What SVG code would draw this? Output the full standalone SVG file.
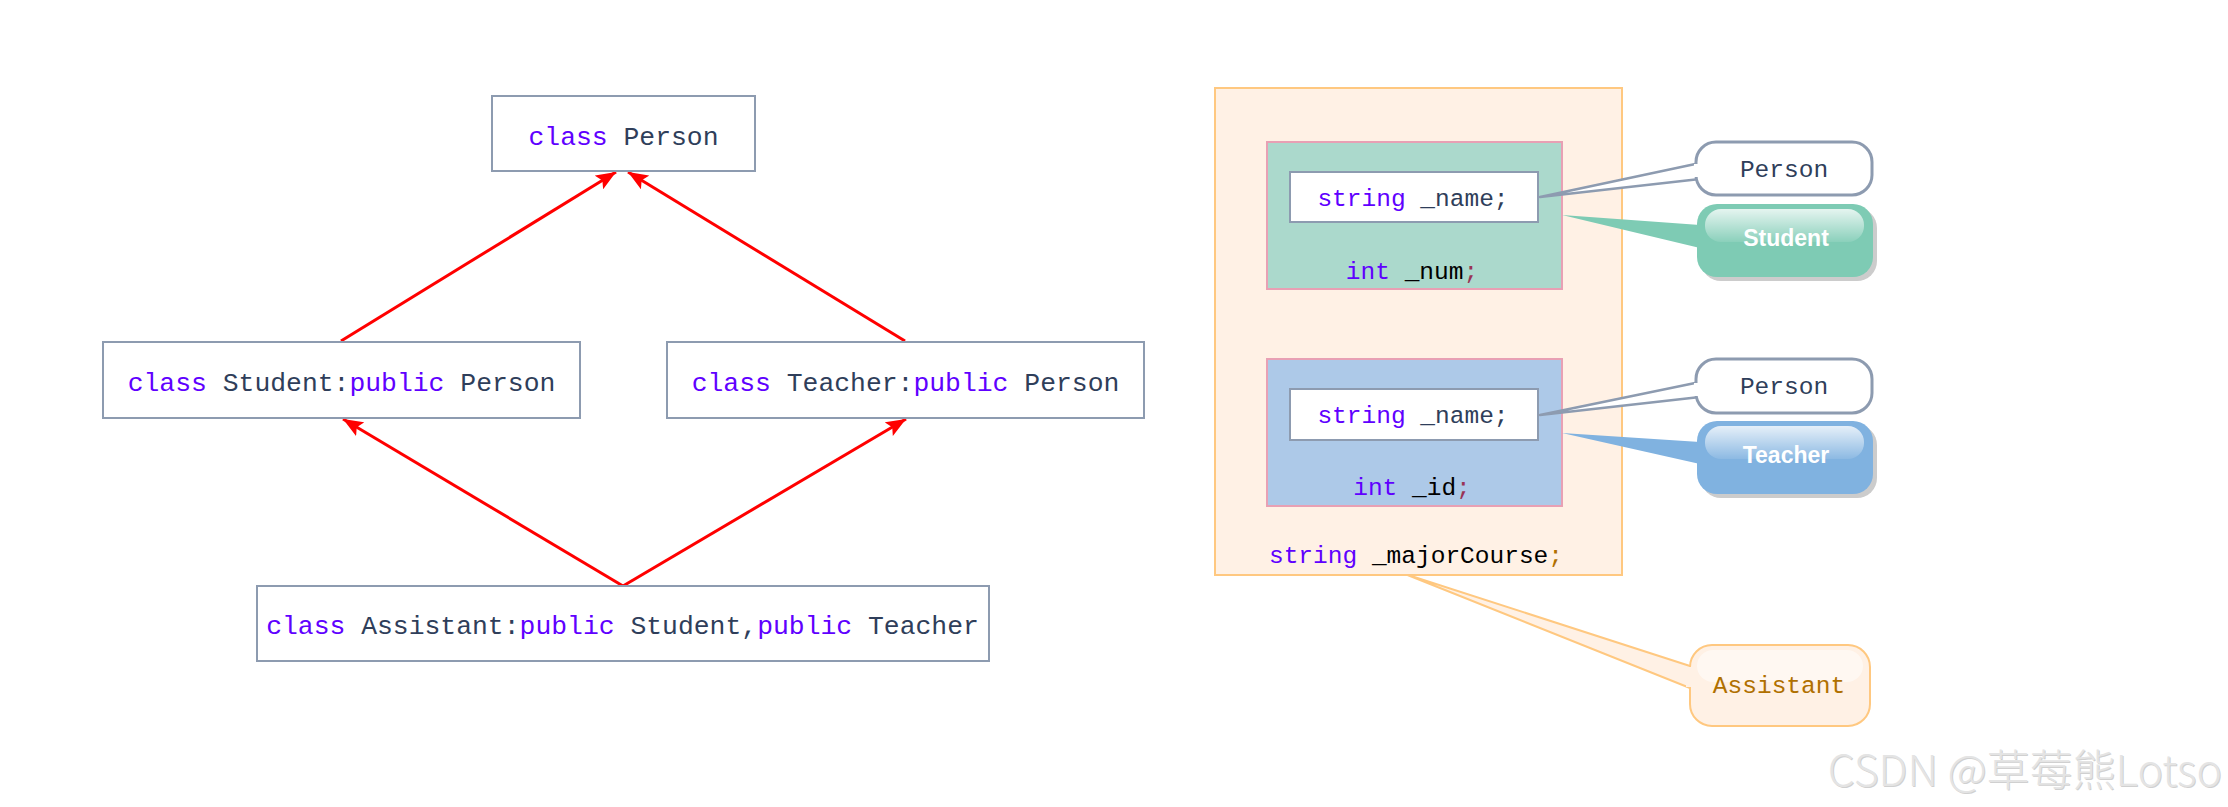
<svg xmlns="http://www.w3.org/2000/svg" width="2228" height="807" viewBox="0 0 2228 807">
<defs>
<style>
.box{fill:#ffffff;stroke:#8d9bb0;stroke-width:2}
.code{font-family:"Liberation Mono","DejaVu Sans Mono",monospace;font-size:26.4px;fill:#2f3e5a}
.code2{font-family:"Liberation Mono","DejaVu Sans Mono",monospace;font-size:24.5px;fill:#2f3e5a}
.kw{fill:#6000ff}
.blk{fill:#000000}
.gold{fill:#b07000}
.arrow{stroke:#ff0000;stroke-width:3;fill:none;marker-end:url(#ah)}
.bub{font-family:"Liberation Sans",Arial,sans-serif;font-weight:bold;font-size:23px;fill:#ffffff}
.wm{font-family:"Noto Sans CJK SC","Liberation Sans",sans-serif;font-size:43px;font-weight:300}
</style>
<marker id="ah" viewBox="0 0 20 16" refX="20" refY="8" markerWidth="20" markerHeight="16" markerUnits="userSpaceOnUse" orient="auto">
<path d="M0,0 L20,8 L0,16 L4,8 z" fill="#ff0000"/>
</marker>
<linearGradient id="gloss" x1="0" y1="0" x2="0" y2="1">
<stop offset="0" stop-color="#ffffff" stop-opacity="0.8"/>
<stop offset="1" stop-color="#ffffff" stop-opacity="0.1"/>
</linearGradient>
</defs>
<rect width="2228" height="807" fill="#ffffff"/>

<g id="connectors">
<line class="arrow" x1="341" y1="341" x2="616" y2="172"/>
<line class="arrow" x1="905" y1="341" x2="628" y2="172"/>
<line class="arrow" x1="623" y1="586" x2="343" y2="419"/>
<line class="arrow" x1="623" y1="586" x2="906" y2="419"/>
</g>

<g id="person">
<rect class="box" x="492" y="96" width="263" height="75"/>
<text class="code" x="623.5" y="145" text-anchor="middle"><tspan class="kw">class</tspan> Person</text>
</g>
<g id="student">
<rect class="box" x="103" y="342" width="477" height="76"/>
<text class="code" x="341.5" y="391" text-anchor="middle"><tspan class="kw">class</tspan> Student:<tspan class="kw">public</tspan> Person</text>
</g>
<g id="teacher">
<rect class="box" x="667" y="342" width="477" height="76"/>
<text class="code" x="905.5" y="391" text-anchor="middle"><tspan class="kw">class</tspan> Teacher:<tspan class="kw">public</tspan> Person</text>
</g>
<g id="assistant">
<rect class="box" x="257" y="586" width="732" height="75"/>
<text class="code" x="622.5" y="634" text-anchor="middle"><tspan class="kw">class</tspan> Assistant:<tspan class="kw">public</tspan> Student,<tspan class="kw">public</tspan> Teacher</text>
</g>

<g id="assistant-object">
<path d="M1405,574 L1690,666 L1690,688 Z" fill="#fff1e5" stroke="#ffc880" stroke-width="2" stroke-linejoin="round"/>
<rect x="1215" y="88" width="407" height="487" fill="#fff1e5" stroke="#ffc880" stroke-width="2"/>
<text class="code2" x="1416" y="563" text-anchor="middle"><tspan class="kw">string</tspan> <tspan class="blk">_majorCourse</tspan><tspan class="gold">;</tspan></text>
</g>

<g id="student-part">
<rect x="1267" y="142" width="295" height="147" fill="#abd9cc" stroke="#e8a0b4" stroke-width="2"/>
<rect class="box" x="1290" y="172" width="248" height="50"/>
<text class="code2" x="1413" y="206" text-anchor="middle"><tspan class="kw">string</tspan> _name;</text>
<text class="code2" x="1412" y="279" text-anchor="middle"><tspan class="kw">int</tspan> <tspan class="blk">_num</tspan><tspan fill="#993355">;</tspan></text>
</g>

<g id="teacher-part">
<rect x="1267" y="359" width="295" height="147" fill="#adc9e8" stroke="#e8a0b4" stroke-width="2"/>
<rect class="box" x="1290" y="389" width="248" height="51"/>
<text class="code2" x="1413" y="423" text-anchor="middle"><tspan class="kw">string</tspan> _name;</text>
<text class="code2" x="1412" y="495" text-anchor="middle"><tspan class="kw">int</tspan> <tspan class="blk">_id</tspan><tspan fill="#993355">;</tspan></text>
</g>

<g id="callout-person-1">
<path d="M1540,197 L1700,163 L1700,179 Z" fill="#ffffff" stroke="#8d9bb0" stroke-width="2.5" stroke-linejoin="round"/>
<rect x="1696" y="142" width="176" height="53" rx="20" fill="#ffffff" stroke="#8d9bb0" stroke-width="3"/>
<rect x="1694" y="164" width="6" height="13" fill="#ffffff"/>
<text class="code2" x="1784" y="177" text-anchor="middle">Person</text>
</g>

<g id="callout-student">
<rect x="1701" y="208" width="176" height="73" rx="20" fill="#cccccc"/>
<path d="M1562,215 L1700,225 L1700,248 Z" fill="#7ecbb4"/>
<rect x="1697" y="204" width="176" height="73" rx="20" fill="#7ecbb4"/>
<rect x="1705" y="209" width="159" height="33" rx="16" fill="url(#gloss)"/>
<text class="bub" x="1786" y="246" text-anchor="middle">Student</text>
</g>

<g id="callout-person-2">
<path d="M1540,415 L1700,382 L1700,397 Z" fill="#ffffff" stroke="#8d9bb0" stroke-width="2.5" stroke-linejoin="round"/>
<rect x="1696" y="359" width="176" height="54" rx="20" fill="#ffffff" stroke="#8d9bb0" stroke-width="3"/>
<rect x="1694" y="383" width="6" height="13" fill="#ffffff"/>
<text class="code2" x="1784" y="394" text-anchor="middle">Person</text>
</g>

<g id="callout-teacher">
<rect x="1701" y="425" width="176" height="73" rx="20" fill="#cccccc"/>
<path d="M1562,433 L1700,442 L1700,464 Z" fill="#80b2e0"/>
<rect x="1697" y="421" width="176" height="73" rx="20" fill="#80b2e0"/>
<rect x="1705" y="426" width="159" height="33" rx="16" fill="url(#gloss)"/>
<text class="bub" x="1786" y="463" text-anchor="middle">Teacher</text>
</g>

<g id="callout-assistant">
<rect x="1690" y="645" width="180" height="81" rx="22" fill="#fff1e5" stroke="#ffc880" stroke-width="2"/>
<rect x="1686" y="667" width="8" height="20" fill="#fff1e5"/>
<rect x="1697" y="650" width="166" height="32" rx="16" fill="#ffffff" opacity="0.5"/>
<text class="code2" x="1779" y="693" text-anchor="middle"><tspan class="gold">Assistant</tspan></text>
</g>

<g id="watermark">
<text class="wm" x="2223" y="787" text-anchor="end" fill="#d0d0d0">CSDN @草莓熊Lotso</text>
<text class="wm" x="2222" y="786" text-anchor="end" fill="#e4e4e4">CSDN @草莓熊Lotso</text>
</g>
</svg>
